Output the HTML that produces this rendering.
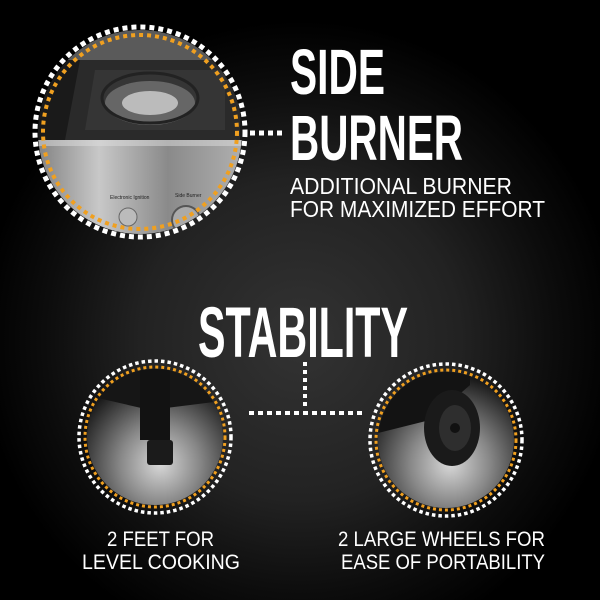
<!DOCTYPE html>
<html><head><style>
html,body{margin:0;padding:0;background:#000;}
svg{display:block}
</style></head><body>
<svg width="600" height="600" viewBox="0 0 600 600" xmlns="http://www.w3.org/2000/svg">
<defs>
<radialGradient id="bg" cx="300" cy="340" r="320" gradientUnits="userSpaceOnUse">
<stop offset="0" stop-color="#333"/><stop offset="0.5" stop-color="#222"/><stop offset="0.8" stop-color="#0c0c0c"/><stop offset="1" stop-color="#000"/>
</radialGradient>
<linearGradient id="steel" x1="0" y1="0" x2="1" y2="0">
<stop offset="0" stop-color="#7a7a7a"/><stop offset="0.3" stop-color="#c8c8c8"/><stop offset="0.6" stop-color="#8a8a8a"/><stop offset="1" stop-color="#b8b8b8"/>
</linearGradient>
<radialGradient id="glow" cx="0.5" cy="0.65" r="0.55">
<stop offset="0" stop-color="#d8d8d8"/><stop offset="0.45" stop-color="#888"/><stop offset="1" stop-color="#1a1a1a"/>
</radialGradient>
<clipPath id="c1"><circle cx="140" cy="132" r="102"/></clipPath>
<clipPath id="c2"><circle cx="155" cy="437" r="68"/></clipPath>
<clipPath id="c3"><circle cx="446" cy="440" r="68"/></clipPath>
</defs>
<rect width="600" height="600" fill="url(#bg)"/>

<g clip-path="url(#c1)">
<rect x="30" y="20" width="220" height="230" fill="#1a1a1a"/>
<rect x="30" y="20" width="220" height="40" fill="#5a5a5a"/>
<polygon points="80,60 240,60 240,140 65,140" fill="#2a2a2a"/>
<polygon points="95,70 225,70 225,130 85,130" fill="#353535"/>
<ellipse cx="150" cy="103" rx="45" ry="22" fill="#666"/>
<ellipse cx="150" cy="103" rx="28" ry="12" fill="#bbb"/>
<ellipse cx="150" cy="98" rx="48" ry="25" fill="none" stroke="#222" stroke-width="3"/>
<rect x="30" y="140" width="230" height="110" fill="url(#steel)"/>
<rect x="30" y="140" width="230" height="6" fill="#ddd" opacity="0.5"/>
<text x="110" y="199" font-family="Liberation Sans" font-size="5" fill="#222">Electronic Ignition</text>
<text x="175" y="197" font-family="Liberation Sans" font-size="5" fill="#222">Side Burner</text>
<circle cx="128" cy="217" r="9" fill="#bbb" stroke="#666"/>
<circle cx="186" cy="220" r="14" fill="#aaa" stroke="#555" stroke-width="2"/>
</g>
<circle cx="140" cy="132" r="97" fill="none" stroke="#f0a020" stroke-width="4" stroke-dasharray="4 4"/>
<circle cx="140" cy="132" r="105" fill="none" stroke="#fff" stroke-width="5" stroke-dasharray="5 4"/>
<line x1="250" y1="133" x2="285" y2="133" stroke="#fff" stroke-width="5" stroke-dasharray="5 4"/>

<g clip-path="url(#c2)">
<rect x="80" y="360" width="160" height="160" fill="url(#glow)"/>
<polygon points="85,365 230,365 230,400 150,410 85,395" fill="#161616"/>
<polygon points="140,365 170,365 170,440 140,440" fill="#121212"/>
<rect x="147" y="440" width="26" height="25" rx="3" fill="#1b1b1b"/>
</g>
<circle cx="155" cy="437" r="70" fill="none" stroke="#f0a020" stroke-width="3" stroke-dasharray="3 3"/>
<circle cx="155" cy="437" r="76" fill="none" stroke="#fff" stroke-width="3.5" stroke-dasharray="3.5 3"/>

<g clip-path="url(#c3)">
<rect x="370" y="360" width="160" height="160" fill="url(#glow)"/>
<polygon points="370,365 470,365 470,385 430,420 370,435" fill="#131313"/>
<ellipse cx="452" cy="428" rx="28" ry="38" fill="#1a1a1a"/>
<ellipse cx="455" cy="428" rx="16" ry="23" fill="#2e2e2e"/>
<circle cx="455" cy="428" r="5" fill="#111"/>
</g>
<circle cx="446" cy="440" r="70" fill="none" stroke="#f0a020" stroke-width="3" stroke-dasharray="3 3"/>
<circle cx="446" cy="440" r="76" fill="none" stroke="#fff" stroke-width="3.5" stroke-dasharray="3.5 3"/>

<line x1="305" y1="362" x2="305" y2="410" stroke="#fff" stroke-width="4" stroke-dasharray="4 4"/>
<line x1="249" y1="413" x2="362" y2="413" stroke="#fff" stroke-width="4" stroke-dasharray="5 4"/>

<g fill="#fff" font-family="Liberation Sans, sans-serif">
<text x="290" y="94" font-size="64" font-weight="bold" textLength="95" lengthAdjust="spacingAndGlyphs">SIDE</text>
<text x="290" y="160" font-size="64" font-weight="bold" textLength="173" lengthAdjust="spacingAndGlyphs">BURNER</text>
<text x="290" y="194" font-size="23" textLength="222" lengthAdjust="spacingAndGlyphs">ADDITIONAL BURNER</text>
<text x="290" y="217" font-size="23" textLength="255" lengthAdjust="spacingAndGlyphs">FOR MAXIMIZED EFFORT</text>
<text x="198" y="357" font-size="71" font-weight="bold" textLength="210" lengthAdjust="spacingAndGlyphs">STABILITY</text>
<text x="107" y="546" font-size="21" textLength="107" lengthAdjust="spacingAndGlyphs">2 FEET FOR</text>
<text x="82" y="569" font-size="21" textLength="158" lengthAdjust="spacingAndGlyphs">LEVEL COOKING</text>
<text x="338" y="546" font-size="21" textLength="207" lengthAdjust="spacingAndGlyphs">2 LARGE WHEELS FOR</text>
<text x="341" y="569" font-size="21" textLength="204" lengthAdjust="spacingAndGlyphs">EASE OF PORTABILITY</text>
</g>
</svg>
</body></html>
